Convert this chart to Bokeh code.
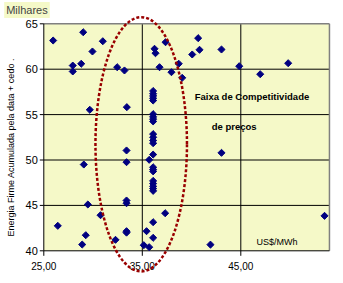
import math
from bokeh.plotting import figure
from bokeh.models import Range1d, Label
from bokeh.core.properties import value
from bokeh.embed import file_html
from bokeh.resources import INLINE

# ---- data (US$/MWh vs accumulated firm energy, thousands) ----
price_usd = [25.95, 29.0, 27.94, 27.94, 28.8, 29.94, 30.99, 29.67, 32.45, 33.19,
             33.43, 36.24, 36.34, 36.75, 37.36, 37.96, 38.7, 39.05, 40.07, 40.67,
             40.81, 43.04, 44.84, 46.97, 49.81,
             29.06, 33.4, 33.4, 35.7, 29.47, 33.4, 33.4, 26.42, 30.76, 29.26,
             28.9, 32.28, 33.4, 33.4, 35.15, 35.7, 35.43, 36.1, 36.1, 37.32,
             43.04, 41.92, 53.5,
             36.1, 36.1, 36.1, 36.1, 36.1,
             36.1, 36.1, 36.1, 36.1,
             36.1, 36.1, 36.1, 36.1,
             36.1,
             36.1, 36.1, 36.1,
             36.1, 36.1, 36.1, 36.1, 36.1]
energy = [63.16, 64.07, 60.4, 59.75, 60.6, 61.95, 63.08, 55.53, 60.22, 59.86,
          55.82, 62.25, 61.76, 60.22, 62.97, 59.67, 60.6, 59.05, 61.62, 63.42,
          62.14, 62.17, 60.33, 59.45, 60.66,
          49.5, 51.05, 49.76, 50.02, 45.1, 45.54, 45.24, 42.75, 43.92, 41.72,
          40.69, 41.21, 42.16, 42.0, 40.62, 40.4, 42.16, 43.15, 41.43, 44.14,
          50.79, 40.68, 43.85,
          57.6, 57.3, 57.05, 56.8, 56.55,
          55.05, 54.75, 54.5, 54.25,
          52.85, 52.5, 52.15, 51.85,
          50.6,
          49.2, 48.95, 48.75,
          47.7, 47.4, 47.1, 46.85, 46.6]

x_ticks = [25, 35, 45]
x_tick_labels = ["25,00", "35,00", "45,00"]
y_ticks = [40, 45, 50, 55, 60, 65]
y_tick_labels = ["40", "45", "50", "55", "60", "65"]
x_max = 54

# ---- style ----
YELLOW = "#F5F9C8"
NAVY = "#000080"
RED = "#990000"
FONT = value("Liberation Sans")

W, H = 343, 283
p = figure(width=W, height=H, output_backend="svg", toolbar_location=None,
           x_range=Range1d(20.604, 55.426), y_range=Range1d(36.399, 67.566),
           x_axis_type=None, y_axis_type=None, min_border=0,
           outline_line_color=None, background_fill_color="white",
           border_fill_color="white")
p.grid.visible = False

x0, y0, y1 = x_ticks[0], y_ticks[0], y_ticks[-1]

# plot area
p.quad(left=[x0], right=[x_max], bottom=[y0], top=[y1],
       fill_color=YELLOW, line_color=None)

# grid lines
hy = y_ticks[1:-1]
p.segment(x0=[x0] * len(hy), x1=[x_max] * len(hy), y0=hy, y1=hy,
          line_color="black", line_width=1)
vx = x_ticks[1:]
p.segment(x0=vx, x1=vx, y0=[y0] * len(vx), y1=[y1] * len(vx),
          line_color="black", line_width=1)

# border (top / right grey)
p.segment(x0=[x0, x_max], x1=[x_max, x_max], y0=[y1, y0], y1=[y1, y1],
          line_color="#808080", line_width=1.5)

# axes
p.segment(x0=[x0, x0], x1=[x0, x_max], y0=[y0, y0], y1=[y1, y0],
          line_color="black", line_width=1)
p.ray(x=[x0] * len(y_ticks), y=y_ticks, length=4, angle=math.pi,
      length_units="screen", line_color="black", line_width=1)
p.ray(x=x_ticks, y=[y0] * len(x_ticks), length=5, angle=-math.pi / 2,
      length_units="screen", line_color="black", line_width=1)

# tick labels
p.text(x=[x0] * len(y_ticks), y=y_ticks, text=y_tick_labels, x_offset=-6,
       text_align="right", text_baseline="middle", text_font=FONT,
       text_font_size="11px", text_color="black")
p.text(x=x_ticks, y=[y0] * len(x_ticks), text=x_tick_labels, y_offset=15,
       text_align="center", text_baseline="middle", text_font=FONT,
       text_font_size="10px", text_color="black")

# axis title (rotated)
p.text(x=[21.62], y=[51.4], text=["Energia Firme Acumulada pela data + cedo ."],
       angle=math.pi / 2, text_align="center", text_baseline="middle",
       text_font=FONT, text_font_size="9px", text_color="black")

# points
p.scatter(x=price_usd, y=energy, marker="square", angle=math.pi / 4, size=5,
          fill_color=NAVY, line_color=NAVY, line_width=1)

# annotations in plot
p.text(x=[46.13], y=[57.03], text=["Faixa de Competitividade"],
       text_align="center", text_baseline="middle", text_font=FONT,
       text_font_style="bold", text_font_size="9.5px", text_color="black")
p.text(x=[44.33], y=[53.72], text=["de preços"],
       text_align="center", text_baseline="middle", text_font=FONT,
       text_font_style="bold", text_font_size="9.5px", text_color="black")
p.text(x=[48.67], y=[41.02], text=["US$/MWh"],
       text_align="center", text_baseline="middle", text_font=FONT,
       text_font_size="9px", text_color="black")

# ellipse
p.ellipse(x=[34.89], y=[51.73], width=[9.29], height=[28.0],
          fill_alpha=0, line_color=RED, line_width=2.5, line_dash="3 2")

# units label
p.add_layout(Label(x=23.29, y=66.52, text="Milhares", text_align="center",
                   text_baseline="middle", text_font="Liberation Sans",
                   text_font_size="11px", background_fill_color=YELLOW,
                   padding=2))

open("out.html", "w").write(file_html(p, INLINE))
